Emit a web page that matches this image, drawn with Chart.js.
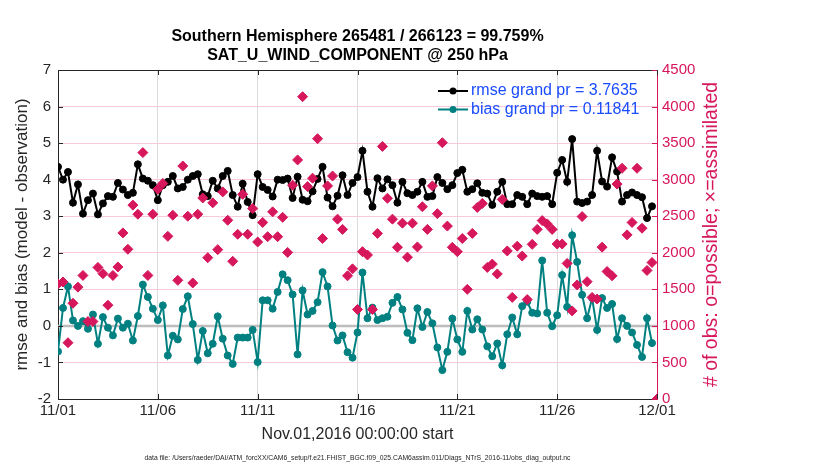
<!DOCTYPE html>
<html>
<head>
<meta charset="utf-8">
<script src="https://cdn.jsdelivr.net/npm/chart.js@4.4.1/dist/chart.umd.min.js"></script>
<style>
  html, body { margin: 0; padding: 0; background: #fff; }
  #wrap { width: 830px; height: 470px; }
</style>
</head>
<body>
<div id="wrap"><canvas id="chart" width="830" height="470"></canvas></div>
<script>
// 6-hourly samples starting Nov 01 2016 00Z (x = days since start)
const dayLabels = ['11/01', '11/06', '11/11', '11/16', '11/21', '11/26', '12/01'];

const rmse = [
  4.35, 4.00, 4.21, 3.37, 3.87, 3.07, 3.44, 3.62, 3.05, 3.35,
  3.55, 3.53, 3.91, 3.73, 3.58, 3.64, 4.42, 4.03, 3.97, 3.85,
  3.44, 3.85, 3.94, 4.10, 3.76, 3.80, 4.00, 4.10, 4.15, 3.60,
  3.55, 3.97, 3.76, 4.10, 4.24, 3.58, 3.26, 3.89, 3.39, 3.03,
  4.15, 3.80, 3.72, 3.54, 4.00, 3.99, 4.03, 3.50, 4.08, 3.45,
  3.41, 3.68, 4.02, 4.35, 3.51, 3.27, 3.56, 4.12, 3.58, 3.91,
  4.07, 4.79, 3.67, 3.26, 4.04, 3.76, 4.01, 3.85, 3.37, 3.94,
  3.63, 3.58, 3.67, 3.94, 3.53, 3.55, 4.07, 3.91, 3.74, 3.85,
  4.18, 4.27, 3.67, 3.74, 3.90, 3.64, 3.62, 3.31, 3.67, 3.94,
  3.33, 3.33, 3.58, 3.53, 3.33, 3.62, 3.55, 3.53, 3.55, 3.33,
  4.19, 4.54, 3.94, 5.11, 3.40, 3.36, 3.40, 3.58, 4.79, 3.95,
  3.81, 4.61, 4.22, 3.40, 3.58, 3.65, 3.58, 3.52, 2.95, 3.27,
  null
];

const bias = [
  -0.70, 0.49, 1.08, 0.15, 0.00, 0.13, -0.08, 0.31, -0.49, 0.24,
  -0.05, -0.26, 0.20, -0.05, 0.06, -0.40, 0.27, 1.13, 0.79, 0.47,
  0.16, 0.56, -0.81, -0.27, -0.37, 0.46, 0.81, 0.05, -0.93, -0.14,
  -0.75, -0.49, 0.26, -0.35, -0.81, -1.04, -0.32, -0.32, -0.32, -0.11,
  -0.99, 0.70, 0.70, 0.47, 0.93, 1.41, 1.25, 0.86, -0.78, 0.97,
  0.31, 0.41, 0.65, 1.47, 1.08, 0.01, -0.40, -0.26, -0.72, -0.87,
  -0.18, 1.46, 0.21, 0.50, 0.16, 0.21, 0.25, 0.63, 0.79, 0.45,
  -0.19, -0.39, 0.48, -0.03, 0.38, 0.07, -0.59, -1.21, -0.71, 0.20,
  -0.37, -0.71, 0.41, -0.10, 0.18, -0.10, -0.56, -0.83, -0.48, -1.08,
  -0.23, 0.23, -0.23, 0.54, 0.66, 0.36, 0.34, 1.79, 0.36, -0.01,
  0.29, 1.39, 0.52, 2.48, 1.75, 0.85, 0.21, 0.76, -0.11, 0.76,
  0.49, 0.60, -0.36, 0.21, 0.00, -0.18, -0.52, -0.85, 0.21, -0.47,
  null
];

const obsCount = [
  1575, 1600, 770, 1310, 1530, 1690, 1060, 1060, 1800, 1714,
  1283, 1690, 1806, 2272, 2048, 2652, 2527, 3370, 1690, 2527,
  2870, 2948, 2225, 2514, 1623, 3187, 2500, 1587, 2527, 2750,
  1933, 2683, 2043, 2833, 2445, 1884, 2253, 2800, 2253, 2605,
  2148, 2415, 2220, 2560, 2220, 2485, 2005, 2925, 3270, 4135,
  2905, 3020, 3560, 2195, 2915, 3050, 2460, 2320, 1685, 1780,
  1225, 2015, 1970, 1225, 2265, 3455, 2745, 2460, 2075, 2405,
  1940, 2405, 2080, 2630, 2320, 2915, 2535, 3505, 2365, 2075,
  2015, 2195, 1500, 2265, 2620, 2675, 1800, 1845, 1710, 2730,
  2025, 1390, 2090, 1955, 1360, 2115, 2320, 2440, 2395, 2320,
  2120, 2120, 1855, 1205, 1560, 2495, 1605, 1390, 1367, 2077,
  1744, 1685, 2940, 3156, 2245, 2414, 3156, 2336, 1758, 1867,
  0
];

const rmseGrand = '3.7635';
const biasGrand = '0.11841';
const titleLines = [
  'Southern Hemisphere 265481 / 266123 = 99.759%',
  'SAT_U_WIND_COMPONENT @ 250 hPa'
];
const xTitle = 'Nov.01,2016 00:00:00 start';
const yTitle = 'rmse and bias (model - observation)';
const y2Title = '# of obs: o=possible; \u00d7=assimilated';
const fileNote = 'data file: /Users/raeder/DAI/ATM_forcXX/CAM6_setup/f.e21.FHIST_BGC.f09_025.CAM6assim.011/Diags_NTrS_2016-11/obs_diag_output.nc';

const FONT = '"Liberation Sans", Arial, Helvetica, sans-serif';
const CRIMSON = '#D6175C';
const TEAL = '#008080';
const AXIS = '#262626';
const LEGEND_BLUE = '#1A4CFF';

const toPoints = arr => arr.map((v, i) => ({ x: i / 4, y: v }));

const decor = {
  id: 'decor',
  beforeDatasetsDraw(chart) {
    const { ctx, chartArea: a, scales } = chart;
    const y0 = scales.y.getPixelForValue(0);
    ctx.save();
    ctx.strokeStyle = '#BDBDBD';
    ctx.lineWidth = 2.5;
    ctx.beginPath();
    ctx.moveTo(a.left, y0);
    ctx.lineTo(a.right, y0);
    ctx.stroke();
    ctx.restore();
  },
  afterDraw(chart) {
    const { ctx, chartArea: a, scales } = chart;
    ctx.save();

    // box top line
    ctx.strokeStyle = AXIS;
    ctx.lineWidth = 1;
    ctx.beginPath();
    ctx.moveTo(a.left, a.top + 0.5);
    ctx.lineTo(a.right, a.top + 0.5);
    ctx.stroke();

    // inward ticks
    const tl = 5;
    ctx.beginPath();
    scales.x.ticks.forEach(t => {
      const px = Math.round(scales.x.getPixelForValue(t.value)) + 0.5;
      ctx.moveTo(px, a.bottom); ctx.lineTo(px, a.bottom - tl);
      ctx.moveTo(px, a.top); ctx.lineTo(px, a.top + tl);
    });
    scales.y.ticks.forEach(t => {
      const py = Math.round(scales.y.getPixelForValue(t.value)) + 0.5;
      ctx.moveTo(a.left, py); ctx.lineTo(a.left + tl, py);
    });
    ctx.stroke();
    ctx.strokeStyle = CRIMSON;
    ctx.beginPath();
    scales.y2.ticks.forEach(t => {
      const py = Math.round(scales.y2.getPixelForValue(t.value)) + 0.5;
      ctx.moveTo(a.right, py); ctx.lineTo(a.right - tl, py);
    });
    ctx.stroke();

    const cx = (a.left + a.right) / 2;
    const cy = (a.top + a.bottom) / 2;

    // titles
    ctx.fillStyle = '#000';
    ctx.textAlign = 'center';
    ctx.textBaseline = 'middle';
    ctx.font = 'bold 16px ' + FONT;
    ctx.fillText(titleLines[0], cx, 37);
    ctx.fillText(titleLines[1], cx, 56);

    ctx.fillStyle = AXIS;
    ctx.font = '16px ' + FONT;
    ctx.fillText(xTitle, cx, 435);

    ctx.font = '6.8px ' + FONT;
    ctx.fillText(fileNote, cx, 458);

    ctx.font = '17px ' + FONT;
    ctx.save();
    ctx.translate(22, cy);
    ctx.rotate(-Math.PI / 2);
    ctx.fillText(yTitle, 0, 0);
    ctx.restore();

    ctx.save();
    ctx.fillStyle = CRIMSON;
    ctx.font = '19.5px ' + FONT;
    ctx.translate(712, cy);
    ctx.rotate(-Math.PI / 2);
    ctx.fillText(y2Title, 0, 0);
    ctx.restore();

    // legend inside the axes
    const rows = [
      { color: '#000', text: 'rmse grand pr = ' + rmseGrand, y: 91 },
      { color: TEAL, text: 'bias grand pr = ' + biasGrand, y: 109.5 }
    ];
    ctx.textAlign = 'left';
    ctx.font = '16px ' + FONT;
    rows.forEach(r => {
      ctx.strokeStyle = r.color;
      ctx.fillStyle = r.color;
      ctx.lineWidth = 2;
      ctx.beginPath();
      ctx.moveTo(438, r.y);
      ctx.lineTo(468, r.y);
      ctx.stroke();
      ctx.beginPath();
      ctx.arc(453, r.y, 3.5, 0, Math.PI * 2);
      ctx.fill();
      ctx.fillStyle = LEGEND_BLUE;
      ctx.fillText(r.text, 471, r.y);
    });

    ctx.restore();
  }
};

new Chart(document.getElementById('chart'), {
  type: 'line',
  data: {
    datasets: [
      {
        label: 'obs',
        data: toPoints(obsCount),
        yAxisID: 'y2',
        showLine: false,
        pointStyle: 'rectRot',
        pointRadius: 5,
        pointBorderWidth: 1,
        pointBackgroundColor: CRIMSON,
        pointBorderColor: CRIMSON
      },
      {
        label: 'rmse grand pr = ' + rmseGrand,
        data: toPoints(rmse),
        yAxisID: 'y',
        borderColor: '#000',
        borderWidth: 2,
        pointRadius: 3.5,
        pointBackgroundColor: '#000',
        pointBorderColor: '#000',
        pointBorderWidth: 1
      },
      {
        label: 'bias grand pr = ' + biasGrand,
        data: toPoints(bias),
        yAxisID: 'y',
        borderColor: TEAL,
        borderWidth: 2,
        pointRadius: 3.5,
        pointBackgroundColor: TEAL,
        pointBorderColor: TEAL,
        pointBorderWidth: 1
      }
    ]
  },
  options: {
    responsive: false,
    animation: false,
    devicePixelRatio: 1,
    layout: { padding: { top: 70, left: 0, right: 0, bottom: 0 } },
    plugins: {
      legend: { display: false },
      tooltip: { enabled: false }
    },
    scales: {
      x: {
        type: 'linear',
        min: 0,
        max: 30,
        afterFit: s => { s.height = 71; },
        afterBuildTicks: s => { s.ticks = dayLabels.map((_, k) => ({ value: k * 5 })); },
        ticks: {
          callback: (v) => dayLabels[Math.round(v / 5)],
          color: AXIS,
          font: { family: FONT, size: 15 },
          padding: 3,
          maxRotation: 0
        },
        grid: { color: '#DCDCDC', lineWidth: 1, drawTicks: false },
        border: { color: AXIS, width: 1 }
      },
      y: {
        position: 'left',
        min: -2,
        max: 7,
        afterFit: s => { s.width = 58; },
        ticks: {
          stepSize: 1,
          color: AXIS,
          font: { family: FONT, size: 15 },
          padding: 7
        },
        grid: { display: false, drawTicks: false },
        border: { color: AXIS, width: 1 }
      },
      y2: {
        position: 'right',
        min: 0,
        max: 4500,
        afterFit: s => { s.width = 173; },
        ticks: {
          stepSize: 500,
          callback: v => String(v),
          color: CRIMSON,
          font: { family: FONT, size: 15 },
          padding: 5
        },
        grid: { color: '#F6CADA', lineWidth: 1, drawTicks: false },
        border: { color: CRIMSON, width: 1 }
      }
    }
  },
  plugins: [decor]
});
</script>
</body>
</html>
